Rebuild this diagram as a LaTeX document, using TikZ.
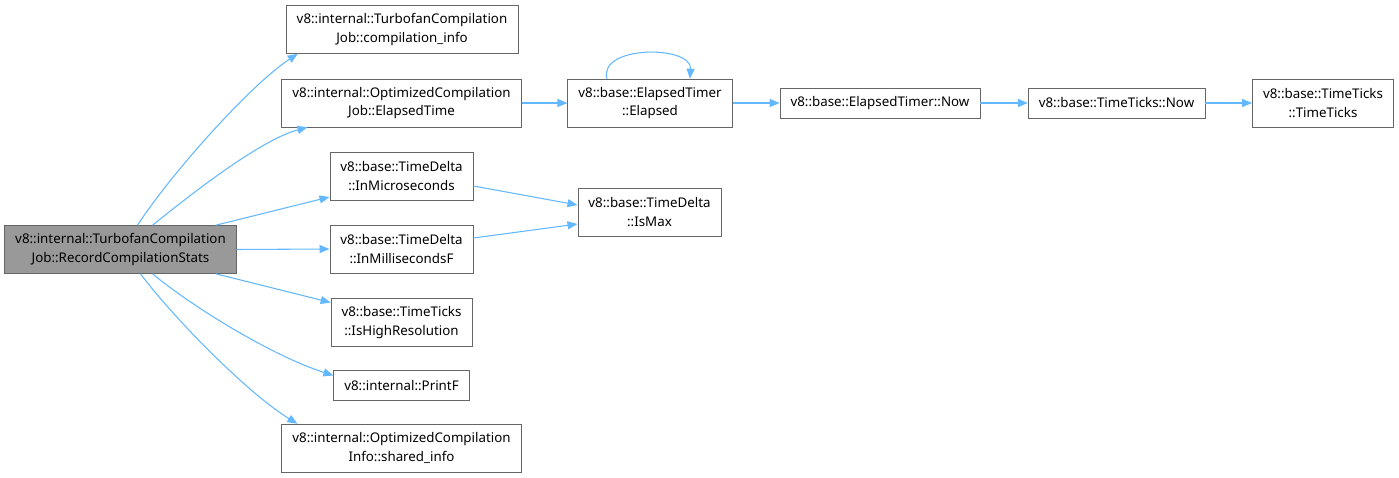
\documentclass[tikz,border=0pt]{standalone}
\usepackage{fontspec}
\setmainfont{Noto Sans}
\usetikzlibrary{arrows.meta,calc}
\definecolor{edgeblue}{HTML}{63B8FF}
\definecolor{boxgray}{HTML}{666666}
\definecolor{curgray}{HTML}{999999}
\begin{document}
\begin{tikzpicture}[x=0.75pt,y=-0.75pt,>={Triangle[length=7.5pt,width=6pt]},
  fn/.style={draw=boxgray,fill=white,align=center,inner xsep=8pt,inner ysep=0pt,
    font=\fontsize{10}{14}\selectfont,minimum height=36pt},
  fnone/.style={fn,minimum height=22.5pt},
  call/.style={->,edgeblue,line width=0.8pt}]
  \useasboundingbox (0,0) rectangle (1399,478);
  \node[fn,fill=curgray] (rcs) at (120.5,249.5) {v8::internal::TurbofanCompilation\\Job::RecordCompilationStats};
  \node[fn] (ci)  at (402,29.5)   {v8::internal::TurbofanCompilation\\Job::compilation\_info};
  \node[fn] (et)  at (401.5,103)  {v8::internal::OptimizedCompilation\\Job::ElapsedTime};
  \node[fn] (imu) at (401.5,176)  {v8::base::TimeDelta\\::InMicroseconds};
  \node[fn] (ims) at (401.5,249)  {v8::base::TimeDelta\\::InMillisecondsF};
  \node[fn] (ihr) at (401.5,322.5) {v8::base::TimeTicks\\::IsHighResolution};
  \node[fnone] (pf) at (401.5,385.5) {v8::internal::PrintF};
  \node[fn] (si)  at (401.5,448)  {v8::internal::OptimizedCompilation\\Info::shared\_info};
  \node[fn] (el)  at (650,103)    {v8::base::ElapsedTimer\\::Elapsed};
  \node[fn] (mx)  at (649.5,212)  {v8::base::TimeDelta\\::IsMax};
  \node[fnone] (etn) at (880,103) {v8::base::ElapsedTimer::Now};
  \node[fnone] (ttn) at (1116.5,103) {v8::base::TimeTicks::Now};
  \node[fn] (tt)  at (1323,103)   {v8::base::TimeTicks\\::TimeTicks};

  \draw[call] ($(rcs.north)+(17,0)$) .. controls (170,175) and (250,85) .. ($(ci.south west)+(12,0)$);
  \draw[call] ($(rcs.north)+(32,0)$) .. controls (190,195) and (260,140) .. ($(et.south west)+(26,0)$);
  \draw[call] ($(rcs.north east)+(-21,0)$) -- ($(imu.west)+(0,21)$);
  \draw[call] (rcs.east) -- (ims.west);
  \draw[call] ($(rcs.south east)+(-21,0)$) -- ($(ihr.west)+(0,-20)$);
  \draw[call] ($(rcs.south)+(32,0)$) .. controls (190,305) and (270,355) .. ($(pf.west)+(0,-10)$);
  \draw[call] ($(rcs.south)+(20,0)$) .. controls (175,320) and (250,395) .. ($(si.north west)+(16,0)$);
  \draw[call] (et) -- (el);
  \draw[call] ($(el.north)+(-43,0)$) .. controls (598,45) and (692,45) .. ($(el.north)+(40,0)$);
  \draw[call] (el) -- (etn);
  \draw[call] (etn) -- (ttn);
  \draw[call] (ttn) -- (tt);
  \draw[call] ($(imu.east)+(0,10)$) -- ($(mx.west)+(0,-7)$);
  \draw[call] ($(ims.east)+(0,-11)$) -- ($(mx.west)+(0,12)$);
\end{tikzpicture}
\end{document}
